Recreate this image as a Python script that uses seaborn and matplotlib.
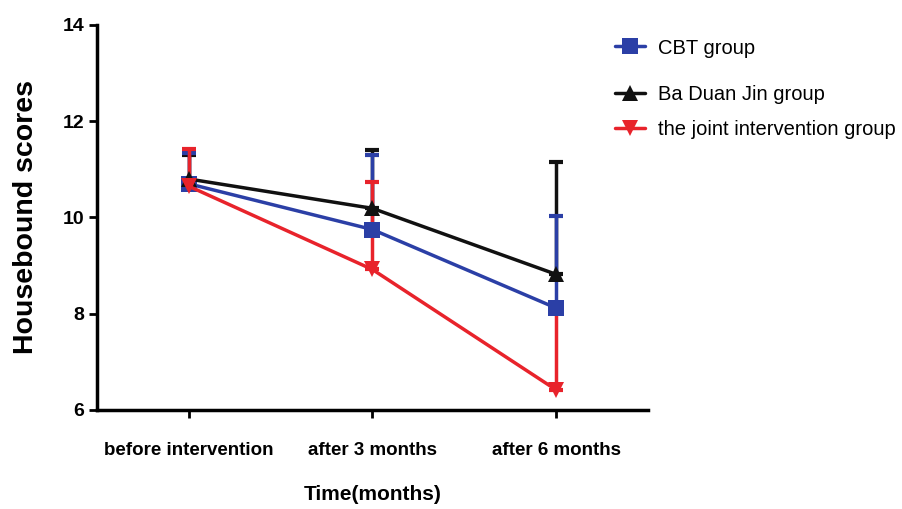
import numpy as np
import pandas as pd
import matplotlib
matplotlib.use("Agg")
from matplotlib import pyplot as plt
import seaborn as sns

# data (upward error bars only)
time_points = ["before intervention", "after 3 months", "after 6 months"]
groups = ["CBT group", "Ba Duan Jin group", "the joint intervention group"]
cbt_mean = [10.70, 9.75, 8.12]
cbt_upper = [11.35, 11.30, 10.03]
bdj_mean = [10.80, 10.19, 8.82]
bdj_upper = [11.30, 11.40, 11.15]
joint_mean = [10.65, 8.92, 6.42]
joint_upper = [11.42, 10.73, 8.05]

BLUE = "#2b3fa6"
BLACK = "#111111"
RED = "#e8232b"
colors = [BLUE, BLACK, RED]
markers = ["s", "^", "v"]

rows = []
for g, means in zip(groups, [cbt_mean, bdj_mean, joint_mean]):
    for i, m in enumerate(means):
        rows.append({"time": i, "score": m, "group": g})
df = pd.DataFrame(rows)

sns.set_theme(style="ticks")
plt.rcParams["font.family"] = ["Liberation Sans", "DejaVu Sans"]
plt.rcParams["text.color"] = "black"
plt.rcParams["axes.labelcolor"] = "black"

fig = plt.figure(figsize=(9.03, 5.09), dpi=100)
ax = fig.add_axes([0.1074, 0.1945, 0.610, 0.7564])

uppers = [cbt_upper, bdj_upper, joint_upper]
means_all = [cbt_mean, bdj_mean, joint_mean]
zorders = [3, 2, 4]
for g, c, mk, up, mn, z in zip(groups, colors, markers, uppers, means_all, zorders):
    err = np.array(up) - np.array(mn)
    ax.errorbar(range(3), mn, yerr=[np.zeros(3), err], fmt="none",
                ecolor=c, elinewidth=2.5, capsize=5, capthick=3, zorder=z)

sns.lineplot(data=df, x="time", y="score", hue="group", style="group",
             palette=dict(zip(groups, colors)),
             markers=dict(zip(groups, markers)), dashes=False,
             markersize=11, linewidth=2.5, markeredgewidth=0,
             ax=ax, zorder=5, legend=True)

ax.set_xlim(-0.5, 2.5)
ax.set_ylim(6, 14)
ax.set_yticks([6, 8, 10, 12, 14])
ax.set_xticks(range(3))
ax.set_xticklabels(time_points)
for lab in ax.get_xticklabels():
    lab.set_fontweight("bold")
    lab.set_fontsize(13.5)
for lab in ax.get_yticklabels():
    lab.set_fontweight("bold")
    lab.set_fontsize(14)
ax.tick_params(axis="both", width=2, length=6, color="black", labelcolor="black")
ax.tick_params(axis="x", pad=17)
ax.tick_params(axis="y", pad=3)
ax.set_xlabel("Time(months)", fontsize=15, fontweight="bold", labelpad=19)
ax.set_ylabel("Housebound scores", fontsize=20.5, fontweight="bold", labelpad=17)
for s in ["left", "bottom"]:
    ax.spines[s].set_linewidth(2.5)
    ax.spines[s].set_color("black")
sns.despine(ax=ax)

# legend: the reference spaces the first entry further from the other two
handles, labels = ax.get_legend_handles_labels()
leg_kw = dict(loc="center left", bbox_transform=fig.transFigure, frameon=False,
              borderpad=0, borderaxespad=0, fontsize=14.5, handlelength=1.5,
              handletextpad=0.65)
leg1 = ax.legend(handles[:1], labels[:1], bbox_to_anchor=(0.681, 1 - 48 / 509), **leg_kw)
ax.add_artist(leg1)
leg2 = ax.legend(handles[1:], labels[1:], bbox_to_anchor=(0.681, 1 - 112 / 509),
                 labelspacing=0.8, **leg_kw)
for leg in (leg1, leg2):
    for t in leg.get_texts():
        t.set_color("black")

fig.savefig("out.png", dpi=100)
